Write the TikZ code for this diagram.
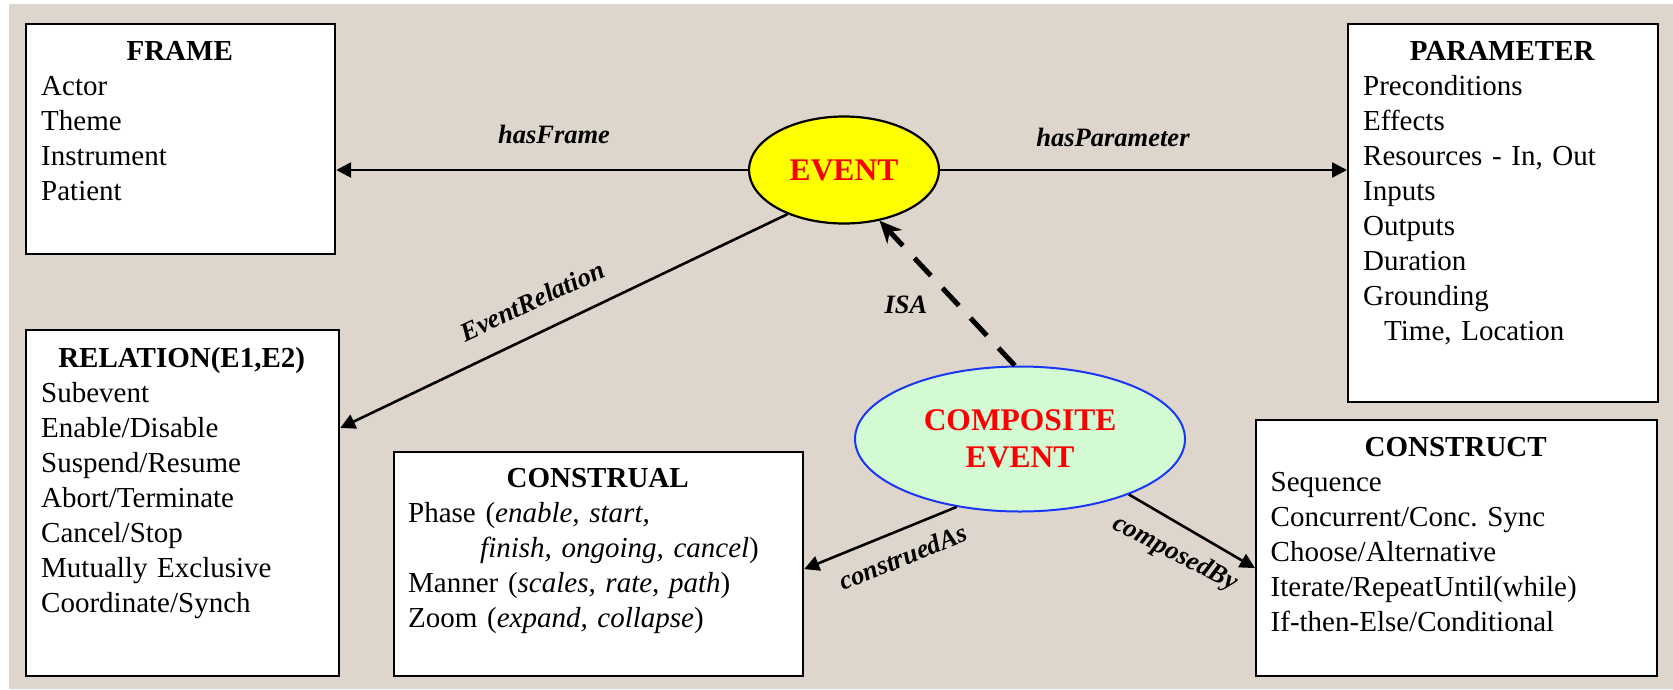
\documentclass[tikz,border=0pt]{standalone}
\usepackage{fontspec}
\setmainfont{Liberation Serif}
\usetikzlibrary{arrows.meta,calc,shapes.geometric}

\definecolor{paper}{RGB}{222,214,205}
\definecolor{evyellow}{RGB}{255,255,0}
\definecolor{cgreen}{RGB}{212,250,212}
\definecolor{cblue}{RGB}{25,55,245}
\definecolor{tred}{RGB}{250,0,0}

\tikzset{
  boxnode/.style={draw=black, line width=2.2pt, fill=white, anchor=north west, inner sep=0pt},
  boxtext/.style={anchor=base west, inner sep=0pt, align=left,
    font=\fontsize{29}{35}\selectfont},
  link/.style={line width=2.6pt, -{Triangle[length=15pt,width=15pt]}},
  isalink/.style={line width=5pt, dash pattern=on 24pt off 17pt,
    -{Stealth[length=22pt,width=20pt,inset=7pt]}},
  lbl/.style={inner sep=0pt, font=\fontsize{26.5}{30}\selectfont\bfseries\itshape},
  evtext/.style={text=tred, font=\fontsize{31.5}{36.5}\selectfont\bfseries, align=center}
}

\newcommand{\boxtitle}[1]{\makebox[\linewidth][c]{\bfseries #1}}
\frenchspacing

\begin{document}
\begin{tikzpicture}[x=1pt,y=-1pt]
  \useasboundingbox (0,0) rectangle (1673,689);
  \fill[paper] (9,4) rectangle (1673,689);

  % content boxes
  \node[boxnode, minimum width=309pt, minimum height=230pt] (frame) at (25,23) {};
  \node[boxnode, minimum width=310pt, minimum height=378pt] (param) at (1347,23) {};
  \node[boxnode, minimum width=313pt, minimum height=346pt] (relation) at (25,329) {};
  \node[boxnode, minimum width=409pt, minimum height=224pt] (construal) at (393,451) {};
  \node[boxnode, minimum width=401pt, minimum height=256pt] (construct) at (1255,419) {};

  \node[boxtext, text width=277pt] (frameText) at (41,60) {%
    \boxtitle{FRAME}\\
    Actor\\
    Theme\\
    Instrument\\
    Patient};

  \node[boxtext, text width=278pt] (paramText) at (1363,60) {%
    \boxtitle{PARAMETER}\\
    Preconditions\\
    Effects\\
    Resources - In, Out\\
    Inputs\\
    Outputs\\
    Duration\\
    Grounding\\
    \hspace*{21pt}Time, Location};

  \node[boxtext, text width=281pt] (relationText) at (41,367) {%
    \boxtitle{RELATION(E1,E2)}\\
    Subevent\\
    Enable/Disable\\
    Suspend/Resume\\
    Abort/Terminate\\
    Cancel/Stop\\
    Mutually Exclusive\\
    Coordinate/Synch};

  \node[boxtext, text width=379pt] (construalText) at (408,487) {%
    \boxtitle{CONSTRUAL}\\
    Phase (\textit{enable, start,}\\
    \hspace*{72pt}\textit{finish, ongoing, cancel})\\
    Manner (\textit{scales, rate, path})\\
    Zoom (\textit{expand, collapse})};

  \node[boxtext, text width=370pt] (constructText) at (1270.5,456) {%
    \boxtitle{CONSTRUCT}\\
    Sequence\\
    Concurrent/Conc. Sync\\
    Choose/Alternative\\
    Iterate/RepeatUntil(while)\\
    If-then-Else/Conditional};

  % event ellipses
  \node[ellipse, draw=black, line width=2.2pt, fill=evyellow, inner sep=0pt,
        minimum width=190pt, minimum height=107pt, evtext] (event) at (844,170) {EVENT};
  \node[ellipse, draw=cblue, line width=2pt, fill=cgreen, inner sep=0pt,
        minimum width=330pt, minimum height=145pt, evtext] (composite) at (1020,439)
        {COMPOSITE\\EVENT};

  % connectors
  \draw[link] (event.west) -- (event.west -| frame.east);
  \draw[link] (event.east) -- (event.east -| param.west);
  \draw[link] (event.218) -- ($(relation.north east)+(0,99)$);
  \draw[isalink] (composite.94) -- (event.-55);
  \draw[link] (composite.227) -- ($(construal.east)+(0,5)$);
  \draw[link] (composite.-27) -- ($(construct.west)+(0,20)$);

  % connector labels
  \node[lbl, anchor=base] (lblFrame) at (554,143) {hasFrame};
  \node[lbl, anchor=base] (lblParam) at (1113,146) {hasParameter};
  \node[lbl, rotate=25] (lblRel) at (532,301) {EventRelation};
  \node[lbl, anchor=base] (lblIsa) at (906,313) {ISA};
  \node[lbl, rotate=22] (lblConstrued) at (903,557) {construedAs};
  \node[lbl, rotate=-27] (lblComposed) at (1175,554) {composedBy};
\end{tikzpicture}
\end{document}
